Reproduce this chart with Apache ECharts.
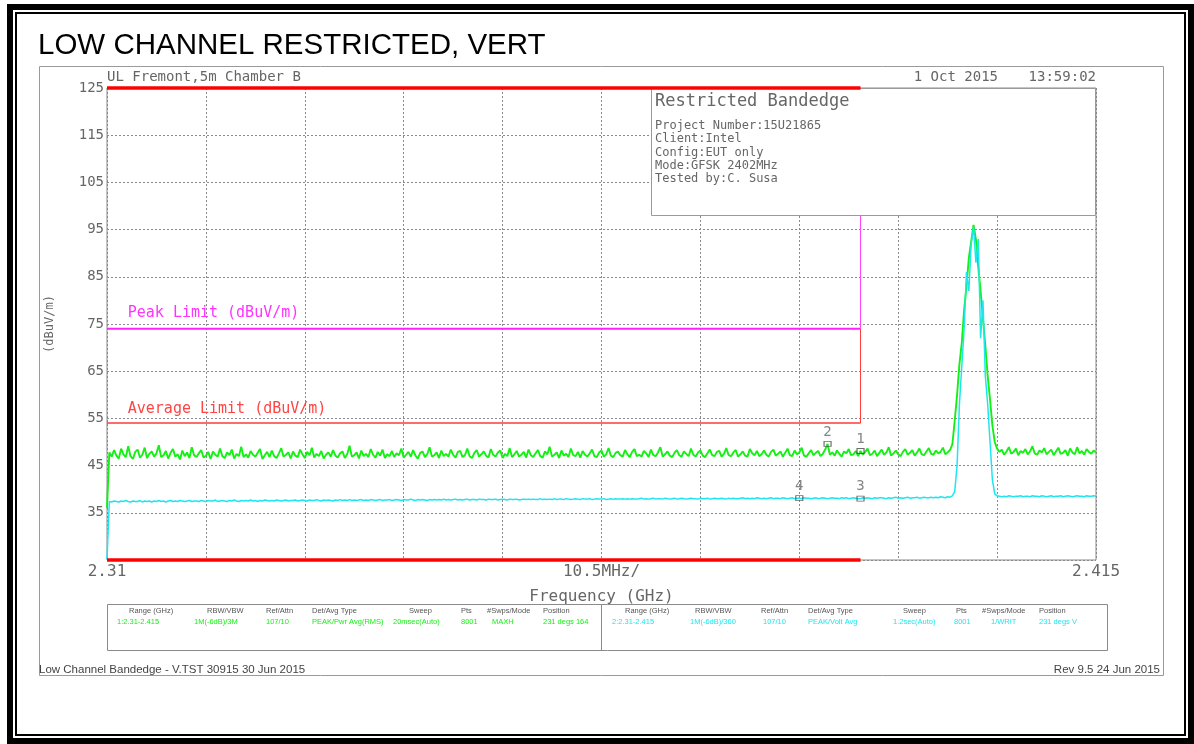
<!DOCTYPE html>
<html>
<head>
<meta charset="utf-8">
<script src="https://cdn.jsdelivr.net/npm/echarts@6/dist/echarts.min.js"></script>
<style>
  html, body { margin: 0; padding: 0; background: #fff; }
  #chart { width: 1194px; height: 744px; }
</style>
</head>
<body>
<div id="chart"></div>
<script>
// ---- Sweep setup (frequencies in MHz) ----
const sweepStartMHz = 2310;
const sweepStepMHz = 0.25;
const spanMHz = [2310, 2415];
const divisionMHz = 10.5;
const xAxisLabels = ['2.31', '10.5MHz/', '2.415'];
const yRange = [25, 125];
const yStep = 10;

// Trace 1: peak detector, max hold (dBuV/m)
const trace1Peak = [
  36.0, 47.8, 46.9, 48.3, 47.1, 46.5, 48.6, 47.4, 46.8, 49.1, 47.0, 46.4, 47.9, 48.4, 46.7, 47.3, 48.8, 46.6, 47.5, 48.0,
  46.9, 47.6, 49.3, 46.8, 47.2, 48.1, 46.5, 47.7, 48.5, 46.9, 47.4, 46.3, 48.2, 47.0, 47.8, 46.6, 48.9, 47.2, 46.8, 47.6,
  48.3, 46.7, 47.1, 47.9, 46.4, 48.0, 47.3, 46.9, 48.6, 47.0, 46.6, 47.8, 47.2, 48.4, 46.5, 47.5, 47.0, 49.0, 46.8, 47.4,
  46.7, 48.1, 47.3, 46.9, 47.7, 48.5, 46.4, 47.2, 47.9, 46.8, 48.2, 47.0, 46.6, 47.6, 48.7, 46.9, 47.3, 47.8, 46.5, 48.0,
  47.1, 46.8, 48.4, 47.4, 46.6, 47.9, 47.2, 48.8, 46.7, 47.5, 47.0, 48.1, 46.5, 47.3, 47.8, 46.9, 48.3, 47.1, 46.7, 47.6,
  48.0, 46.6, 47.4, 49.2, 46.9, 47.2, 47.8, 46.5, 48.2, 47.0, 47.5, 46.8, 48.5, 47.3, 46.7, 47.9, 47.1, 48.4, 46.6, 47.4,
  47.0, 48.1, 46.8, 47.6, 47.2, 48.6, 46.7, 47.3, 47.9, 46.9, 48.3, 47.1, 46.5, 47.7, 48.0, 46.8, 47.4, 48.9, 46.9, 47.2,
  47.8, 46.6, 48.2, 47.0, 47.5, 46.9, 48.4, 47.3, 46.7, 47.9, 48.1, 46.8, 47.2, 48.6, 47.0, 46.6, 47.7, 48.3, 46.9, 47.4,
  48.0, 47.1, 46.7, 48.5, 47.3, 46.9, 47.8, 48.2, 46.6, 47.5, 47.0, 48.7, 46.8, 47.4, 48.1, 46.9, 47.3, 47.9, 46.7, 48.4,
  47.2, 46.8, 47.6, 48.3, 47.0, 46.7, 48.0, 47.4, 49.0, 46.9, 47.3, 47.8, 46.6, 48.2, 47.1, 47.5, 46.8, 48.6, 47.2, 47.0,
  47.9, 46.7, 48.1, 47.3, 46.9, 47.6, 48.4, 47.0, 46.8, 47.8, 48.2, 46.9, 47.4, 48.7, 47.1, 46.8, 47.7, 48.0, 47.2, 46.9,
  48.3, 47.4, 46.8, 47.9, 48.5, 47.0, 47.3, 46.9, 48.1, 47.6, 46.8, 48.4, 47.2, 47.0, 47.8, 48.9, 46.9, 47.4, 48.0, 47.1,
  46.8, 47.7, 48.3, 47.2, 46.9, 48.0, 47.5, 47.0, 48.6, 47.3, 46.9, 47.8, 48.2, 47.1, 46.8, 47.6, 48.4, 47.2, 47.0, 47.9,
  48.1, 46.9, 47.5, 48.7, 47.2, 47.0, 47.8, 48.3, 46.9, 47.4, 48.0, 47.1, 46.9, 48.5, 47.6, 47.2, 48.1, 47.0, 47.4, 48.2,
  47.3, 46.9, 47.9, 48.4, 47.1, 47.5, 48.0, 46.9, 47.7, 48.6, 47.2, 47.0, 48.2, 47.4, 47.8, 48.8, 47.1, 46.9, 47.6, 48.3,
  47.2, 47.7, 48.1, 47.0, 47.5, 48.4, 49.6, 47.3, 47.8, 47.1, 48.2, 47.5, 46.9, 48.0, 47.6, 48.5, 47.2, 47.4, 48.1, 47.0,
  48.1, 47.3, 47.9, 48.6, 47.2, 47.5, 48.2, 47.0, 47.7, 48.4, 47.3, 47.8, 48.9, 47.1, 47.6, 48.2, 47.4, 47.0, 47.9, 48.5,
  47.3, 47.7, 48.3, 47.1, 47.8, 48.6, 47.4, 47.2, 48.0, 48.7, 47.5, 47.3, 48.2, 47.6, 47.9, 48.8, 47.4, 47.8, 48.3, 49.5,
  54.5, 60.0, 66.5, 71.0, 78.0, 83.0, 89.0, 92.5, 96.0, 93.0, 87.0, 82.0, 76.0, 70.5, 64.0, 59.0, 53.5, 50.0, 48.6, 47.9,
  48.4, 47.3, 48.0, 48.9, 47.5, 47.9, 48.6, 47.2, 48.1, 47.7, 48.5, 47.4, 48.0, 49.1, 47.6, 47.3, 48.2, 47.8, 48.7, 47.4,
  47.9, 48.4, 47.2, 48.0, 48.8, 47.5, 47.7, 48.3, 47.1, 48.6, 47.8, 47.4, 48.9, 47.6, 48.1, 47.3, 48.5, 47.9, 47.5, 48.2,
  47.8
];

// Trace 2: voltage average (dBuV/m)
const trace2Avg = [
  25.2, 37.4, 37.3, 37.5, 37.4, 37.3, 37.5, 37.4, 37.6, 37.4, 37.3, 37.5, 37.4, 37.4, 37.6, 37.3, 37.5, 37.4, 37.5, 37.3,
  37.5, 37.4, 37.6, 37.4, 37.5, 37.3, 37.5, 37.6, 37.4, 37.5, 37.4, 37.6, 37.5, 37.4, 37.5, 37.6, 37.4, 37.5, 37.5, 37.4,
  37.6, 37.5, 37.4, 37.6, 37.5, 37.5, 37.7, 37.4, 37.5, 37.6, 37.5, 37.4, 37.6, 37.5, 37.7, 37.5, 37.4, 37.6, 37.5, 37.6,
  37.5, 37.7, 37.5, 37.6, 37.4, 37.6, 37.5, 37.7, 37.6, 37.5, 37.6, 37.5, 37.7, 37.6, 37.5, 37.6, 37.7, 37.5, 37.6, 37.6,
  37.7, 37.5, 37.6, 37.7, 37.6, 37.5, 37.7, 37.6, 37.6, 37.8, 37.6, 37.5, 37.7, 37.6, 37.7, 37.6, 37.5, 37.7, 37.6, 37.8,
  37.6, 37.7, 37.6, 37.8, 37.6, 37.7, 37.6, 37.7, 37.8, 37.6, 37.7, 37.6, 37.8, 37.7, 37.6, 37.7, 37.8, 37.6, 37.7, 37.7,
  37.8, 37.6, 37.7, 37.8, 37.7, 37.6, 37.8, 37.7, 37.7, 37.9, 37.7, 37.6, 37.8, 37.7, 37.8, 37.7, 37.6, 37.8, 37.7, 37.8,
  37.7, 37.8, 37.7, 37.9, 37.7, 37.8, 37.7, 37.8, 37.9, 37.7, 37.8, 37.7, 37.8, 37.9, 37.7, 37.8, 37.8, 37.7, 37.9, 37.8,
  37.8, 37.7, 37.9, 37.8, 37.8, 37.9, 37.7, 37.8, 37.9, 37.8, 37.7, 37.9, 37.8, 37.8, 37.9, 37.7, 37.8, 37.9, 37.8, 37.9,
  37.8, 37.9, 37.8, 37.8, 38.0, 37.8, 37.9, 37.8, 37.9, 37.8, 38.0, 37.8, 37.9, 37.9, 37.8, 38.0, 37.9, 37.8, 37.9, 38.0,
  37.9, 37.8, 38.0, 37.9, 37.9, 38.0, 37.8, 37.9, 38.0, 37.9, 37.9, 38.0, 37.8, 37.9, 38.0, 37.9, 38.0, 37.9, 37.9, 38.0,
  37.9, 38.0, 37.9, 38.0, 37.9, 37.9, 38.0, 38.1, 37.9, 38.0, 37.9, 38.0, 38.1, 37.9, 38.0, 38.0, 37.9, 38.1, 38.0, 37.9,
  38.0, 38.1, 37.9, 38.0, 38.1, 38.0, 37.9, 38.0, 38.1, 38.0, 38.0, 37.9, 38.1, 38.0, 38.0, 38.1, 37.9, 38.0, 38.1, 38.0,
  38.0, 38.1, 38.0, 37.9, 38.1, 38.0, 38.1, 38.0, 38.0, 38.1, 38.2, 38.0, 38.1, 38.0, 38.1, 38.0, 38.2, 38.1, 38.0, 38.1,
  38.0, 38.1, 38.2, 38.0, 38.1, 38.1, 38.0, 38.2, 38.1, 38.0, 38.1, 38.2, 38.0, 38.1, 38.1, 38.0, 38.2, 38.1, 38.1, 38.0,
  38.1, 38.2, 38.0, 38.1, 38.2, 38.1, 38.0, 38.1, 38.2, 38.1, 38.1, 38.0, 38.2, 38.1, 38.2, 38.0, 38.1, 38.2, 38.1, 38.0,
  38.0, 38.2, 38.1, 38.2, 38.1, 38.0, 38.2, 38.1, 38.2, 38.2, 38.1, 38.0, 38.2, 38.1, 38.2, 38.3, 38.1, 38.2, 38.1, 38.2,
  38.3, 38.1, 38.2, 38.2, 38.3, 38.1, 38.2, 38.3, 38.2, 38.2, 38.3, 38.2, 38.3, 38.2, 38.4, 38.3, 38.2, 38.4, 38.3, 38.6,
  39.5, 45.0, 58.0, 66.0, 74.0, 86.0, 82.0, 92.0, 95.5, 88.0, 93.0, 72.0, 80.0, 64.0, 58.0, 50.0, 42.0, 39.0, 38.6, 38.5,
  38.4, 38.5, 38.4, 38.6, 38.5, 38.4, 38.5, 38.5, 38.6, 38.4, 38.5, 38.5, 38.4, 38.6, 38.5, 38.5, 38.4, 38.6, 38.5, 38.4,
  38.5, 38.6, 38.4, 38.5, 38.5, 38.6, 38.4, 38.5, 38.6, 38.5, 38.4, 38.5, 38.6, 38.5, 38.5, 38.4, 38.6, 38.5, 38.5, 38.6,
  38.5
];

// Limits and restricted band
const restrictedBandMHz = [2310, 2390];
const restrictedLevels = [125, 25];
const peakLimit = 74;
const avgLimit = 54;

// Markers
const markerIds = ['1', '2', '3', '4'];
const markerFreqMHz = [2390, 2386.5, 2390, 2383.5];
const markerLevels = [48.1, 49.6, 38.0, 38.1];

// ---- Build series data ----
const toXY = arr => arr.map((v, i) => [sweepStartMHz + i * sweepStepMHz, v]);

const GRAY = '#666';
const MONO = '"DejaVu Sans Mono", monospace';
const SANS = '"Liberation Sans", Arial, sans-serif';

function txt(text, x, y, size, fill, align, family, vAlign) {
  const v = vAlign || 'middle';
  const a = align || 'left';
  return {
    type: 'text', z: 120,
    style: {
      text: text, x: x, y: y,
      font: size + 'px ' + (family || MONO),
      fill: fill || GRAY,
      textAlign: a, textVerticalAlign: v, align: a, verticalAlign: v
    }
  };
}
function box(x, y, w, h, stroke, lw, fill, z) {
  return {
    type: 'rect', z: z || 110,
    shape: { x: x, y: y, width: w, height: h },
    style: { fill: fill || 'none', stroke: stroke, lineWidth: lw }
  };
}
function seg(x1, y1, x2, y2, stroke, lw) {
  return {
    type: 'line', z: 110,
    shape: { x1: x1, y1: y1, x2: x2, y2: y2 },
    style: { stroke: stroke, lineWidth: lw }
  };
}

// Setup table rows: [text, x]
const tableHeader1 = [['Range (GHz)', 129], ['RBW/VBW', 207], ['Ref/Attn', 266], ['Det/Avg Type', 312], ['Sweep', 409], ['Pts', 461], ['#Swps/Mode', 487], ['Position', 543]];
const tableValues1 = [['1:2.31-2.415', 117], ['1M(-6dB)/3M', 194], ['107/10', 266], ['PEAK/Pwr Avg(RMS)', 312], ['20msec(Auto)', 393], ['8001', 461], ['MAXH', 492], ['231 degs 164', 543]];
const tableHeader2 = [['Range (GHz)', 625], ['RBW/VBW', 695], ['Ref/Attn', 761], ['Det/Avg Type', 808], ['Sweep', 903], ['Pts', 956], ['#Swps/Mode', 982], ['Position', 1039]];
const tableValues2 = [['2:2.31-2.415', 612], ['1M(-6dB)/360', 690], ['107/10', 763], ['PEAK/Volt Avg', 808], ['1.2sec(Auto)', 893], ['8001', 954], ['1/WRIT', 991], ['231 degs V', 1039]];

const infoLines = ['Project Number:15U21865', 'Client:Intel', 'Config:EUT only', 'Mode:GFSK 2402MHz', 'Tested by:C. Susa'];

const TRACE1_COLOR = '#14f014';
const TRACE2_COLOR = '#1ee6f0';
const TABLE_FONT = '"Liberation Sans Narrow", "Liberation Sans", Arial, sans-serif';

const graphics = [
  // page borders
  box(10, 7, 1181, 734, '#000', 6, 'none', 90),
  box(16, 13, 1169, 722, '#000', 2, 'none', 90),
  // plot frame
  box(39.5, 66.5, 1124, 609, '#9a9a9a', 1, 'none', 90),
  txt('LOW CHANNEL RESTRICTED, VERT', 38, 61, 29.5, '#000', 'left', SANS, 'bottom'),
  txt('UL Fremont,5m Chamber B', 107, 77, 14),
  txt('1 Oct 2015', 998, 77, 14, GRAY, 'right'),
  txt('13:59:02', 1096, 77, 14, GRAY, 'right'),
  // info panel
  box(651.5, 88.5, 444, 127, '#9a9a9a', 1, '#fff', 105),
  txt('Restricted Bandedge', 655, 102, 17),
  // setup table
  box(107.5, 604.5, 1000, 46, '#8a8a8a', 1, 'none', 100),
  seg(601.5, 604.5, 601.5, 650.5, '#8a8a8a', 1),
  // footer
  txt('Low Channel Bandedge - V.TST 30915 30 Jun 2015', 39, 670, 11.5, '#444', 'left', SANS),
  txt('Rev 9.5 24 Jun 2015', 1160, 670, 11.5, '#444', 'right', SANS)
];
infoLines.forEach((s, i) => graphics.push(txt(s, 655, 126 + i * 13.3, 12)));
tableHeader1.concat(tableHeader2).forEach(([s, x]) => graphics.push(txt(s, x, 611, 7.5, '#555', 'left', TABLE_FONT)));
tableValues1.forEach(([s, x]) => graphics.push(txt(s, x, 622, 7.5, TRACE1_COLOR, 'left', TABLE_FONT)));
tableValues2.forEach(([s, x]) => graphics.push(txt(s, x, 622, 7.5, TRACE2_COLOR, 'left', TABLE_FONT)));

const chart = echarts.init(document.getElementById('chart'), null, { renderer: 'canvas' });

const option = {
  animation: false,
  backgroundColor: '#fff',
  grid: {
    left: 107, right: 98, top: 88, bottom: 184,
    show: true, borderColor: '#8a8a8a', borderWidth: 1,
    outerBoundsMode: 'none'
  },
  xAxis: {
    type: 'value',
    min: spanMHz[0], max: spanMHz[1], interval: divisionMHz,
    name: 'Frequency (GHz)', nameLocation: 'middle', nameGap: 29,
    nameTextStyle: { fontFamily: MONO, fontSize: 16, color: GRAY },
    axisLine: { show: false }, axisTick: { show: false },
    axisLabel: {
      show: true, margin: 4, showMinLabel: true, showMaxLabel: true, hideOverlap: false,
      fontFamily: MONO, fontSize: 16, color: GRAY,
      formatter: v => {
        if (Math.abs(v - spanMHz[0]) < 1e-6) return xAxisLabels[0];
        if (Math.abs(v - (spanMHz[0] + spanMHz[1]) / 2) < 1e-6) return xAxisLabels[1];
        if (Math.abs(v - spanMHz[1]) < 1e-6) return xAxisLabels[2];
        return '';
      }
    },
    splitLine: { show: true, lineStyle: { color: '#8a8a8a', width: 1, type: [2, 2] } }
  },
  yAxis: {
    type: 'value',
    min: yRange[0], max: yRange[1], interval: yStep,
    name: '(dBuV/m)', nameLocation: 'middle', nameGap: 51, nameRotate: 90,
    nameTextStyle: { fontFamily: MONO, fontSize: 12, color: GRAY },
    axisLine: { show: false }, axisTick: { show: false },
    axisLabel: {
      margin: 3, fontFamily: MONO, fontSize: 14, color: GRAY,
      formatter: v => (v === yRange[0] ? '' : String(v))
    },
    splitLine: { show: true, lineStyle: { color: '#8a8a8a', width: 1, type: [2, 2] } }
  },
  series: [
    {
      name: 'Trace 1', type: 'line', data: toXY(trace1Peak), showSymbol: false, z: 3,
      lineStyle: { color: TRACE1_COLOR, width: 1.9 }, silent: true
    },
    {
      name: 'Trace 2', type: 'line', data: toXY(trace2Avg), showSymbol: false, z: 4,
      lineStyle: { color: TRACE2_COLOR, width: 1.5 }, silent: true
    },
    {
      name: 'Peak Limit', type: 'line', showSymbol: false, z: 5, clip: false,
      data: [[restrictedBandMHz[0], peakLimit], [restrictedBandMHz[1], peakLimit]],
      lineStyle: { color: '#ff22ff', width: 2 }
    },
    {
      name: 'Peak Limit edge', type: 'line', showSymbol: false, z: 5,
      data: [[restrictedBandMHz[1], peakLimit], [restrictedBandMHz[1], yRange[1]]],
      lineStyle: { color: '#ff44ff', width: 1 }
    },
    {
      name: 'Average Limit', type: 'line', showSymbol: false, z: 5,
      data: [[restrictedBandMHz[0], avgLimit], [restrictedBandMHz[1], avgLimit]],
      lineStyle: { color: '#ff3a3a', width: 1.5 }
    },
    {
      name: 'Average Limit edge', type: 'line', showSymbol: false, z: 5,
      data: [[restrictedBandMHz[1], avgLimit], [restrictedBandMHz[1], peakLimit]],
      lineStyle: { color: '#ff3a3a', width: 1 }
    },
    {
      name: 'Restricted band top', type: 'line', showSymbol: false, z: 130, clip: false,
      data: [[restrictedBandMHz[0], restrictedLevels[0]], [restrictedBandMHz[1], restrictedLevels[0]]],
      lineStyle: { color: '#ff0000', width: 3.5 }
    },
    {
      name: 'Restricted band bottom', type: 'line', showSymbol: false, z: 130, clip: false,
      data: [[restrictedBandMHz[0], restrictedLevels[1]], [restrictedBandMHz[1], restrictedLevels[1]]],
      lineStyle: { color: '#ff0000', width: 3.5 }
    },
    {
      name: 'Markers', type: 'scatter', z: 20,
      symbol: 'rect', symbolSize: [7, 5],
      data: markerIds.map((id, i) => ({ name: id, value: [markerFreqMHz[i], markerLevels[i]] })),
      itemStyle: { color: 'rgba(255,255,255,0)', borderColor: '#4a4a4a', borderWidth: 1 },
      label: {
        show: true, position: 'top', distance: 2,
        formatter: p => p.name,
        fontFamily: MONO, fontSize: 14, color: GRAY
      }
    }
  ],
  graphic: { elements: graphics }
};

chart.setOption(option);

// Limit captions sit just above their limit lines
const labelFreq = 2312.2;
const pPeak = chart.convertToPixel({ gridIndex: 0 }, [labelFreq, peakLimit]);
const pAvg = chart.convertToPixel({ gridIndex: 0 }, [labelFreq, avgLimit]);
graphics.push(txt('Peak Limit (dBuV/m)', pPeak[0], pPeak[1] - 16, 15, '#ff33ff'));
graphics.push(txt('Average Limit (dBuV/m)', pAvg[0], pAvg[1] - 14, 15, '#ff4444'));
chart.setOption({ graphic: { elements: graphics } });
</script>
</body>
</html>
